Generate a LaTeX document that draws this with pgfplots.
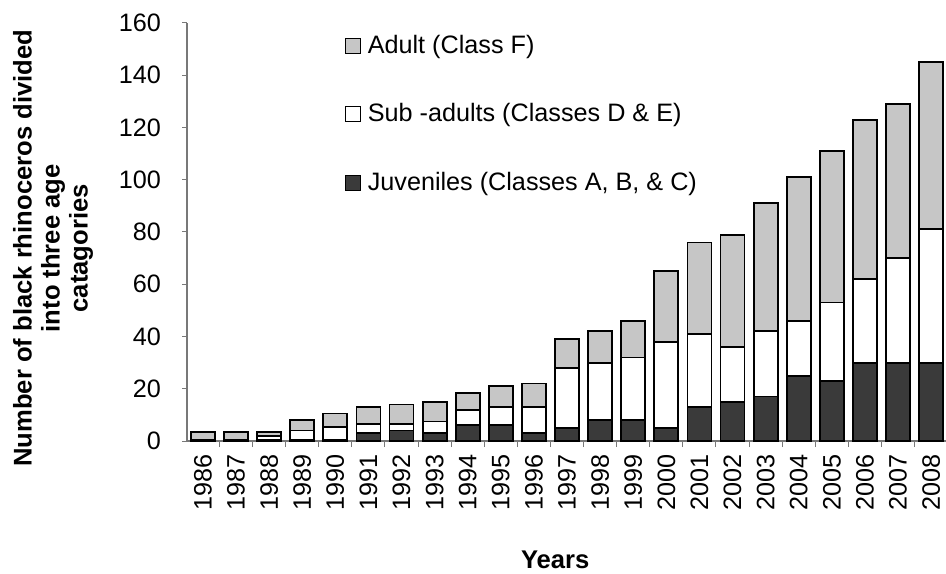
\documentclass[border=0pt]{standalone}
\usepackage{pgfplots}
\pgfplotsset{compat=1.18}
\usepackage{fontspec}
\setmainfont{Liberation Sans}
\definecolor{adultgray}{RGB}{198,198,198}
\definecolor{juvdark}{RGB}{58,58,58}
\definecolor{axisgray}{RGB}{120,120,120}
\begin{document}
\begin{tikzpicture}
\useasboundingbox (0,0) rectangle (473pt,286.5pt);
\clip (0,0) rectangle (473pt,286.5pt);
\begin{axis}[
  at={(93.5pt,66pt)}, anchor=south west,
  scale only axis, width=382pt, height=209pt,
  xmin=-0.48, xmax=22.6, ymin=0, ymax=160,
  ybar stacked, bar width=12pt, bar shift=0pt,
  axis lines=left, axis line style={-, axisgray, line width=0.6pt},
  ytick={0,20,...,160},
  xtick={0,...,22},
  xticklabels={1986,1987,1988,1989,1990,1991,1992,1993,1994,1995,1996,1997,1998,1999,2000,2001,2002,2003,2004,2005,2006,2007,2008},
  minor xtick={-0.5,0.5,...,22.5},
  tick align=outside,
  x tick style={draw=none},
  minor x tick style={draw=axisgray, line width=0.5pt},
  minor tick length=3pt,
  y tick style={draw=axisgray, line width=0.5pt},
  major tick length=2.5pt,
  /pgf/number format/assume math mode=true,
  tick label style={font=\fontsize{12.6}{14}\selectfont},
  xticklabel style={yshift=-4.2pt, rotate=90, anchor=east, inner sep=0pt},
  yticklabel style={xshift=-7pt},
  ylabel={Number of black rhinoceros divided\\into three age\\catagories},
  ylabel style={font=\fontsize{12.8}{14}\selectfont\bfseries, align=center, at={(axis description cs:-0.1754,0.461)}, anchor=center},
  xlabel={Years},
  xlabel style={font=\fontsize{12.8}{14}\selectfont\bfseries, at={(axis description cs:0.482,-0.285)}, anchor=center},
  reverse legend,
  legend cell align=left,
  legend image code/.code={\draw[#1, line width=0.5pt] (0pt,-3.75pt) rectangle (7.5pt,3.75pt); \path (8.5pt,0pt);},
  legend style={draw=none, fill=none, at={(axis description cs:0.2068,0.982)}, anchor=north west,
    font=\fontsize{12.6}{14}\selectfont, row sep=19.75pt, inner sep=0pt},
]
\addplot[fill=juvdark, draw=black, line width=0.9pt] coordinates {
(0,0) (1,0) (2,0.5) (3,0.5) (4,0.5) (5,3) (6,4) (7,3) (8,6) (9,6) (10,3) (11,5)
(12,8) (13,8) (14,5) (15,13) (16,15) (17,17) (18,25) (19,23) (20,30) (21,30) (22,30)};
\addlegendentry{Juveniles (Classes A, B, \& C)}
\addplot[fill=white, draw=black, line width=0.9pt] coordinates {
(0,0.5) (1,0.5) (2,1.5) (3,3.5) (4,5) (5,3.5) (6,2.5) (7,4.5) (8,6) (9,7) (10,10) (11,23)
(12,22) (13,24) (14,33) (15,28) (16,21) (17,25) (18,21) (19,30) (20,32) (21,40) (22,51)};
\addlegendentry{Sub -adults (Classes D \& E)}
\addplot[fill=adultgray, draw=black, line width=0.9pt] coordinates {
(0,3) (1,3) (2,1.5) (3,4) (4,5) (5,6.5) (6,7.5) (7,7.5) (8,6.5) (9,8) (10,9) (11,11)
(12,12) (13,14) (14,27) (15,35) (16,43) (17,49) (18,55) (19,58) (20,61) (21,59) (22,64)};
\addlegendentry{Adult (Class F)}
\end{axis}
\end{tikzpicture}
\end{document}
